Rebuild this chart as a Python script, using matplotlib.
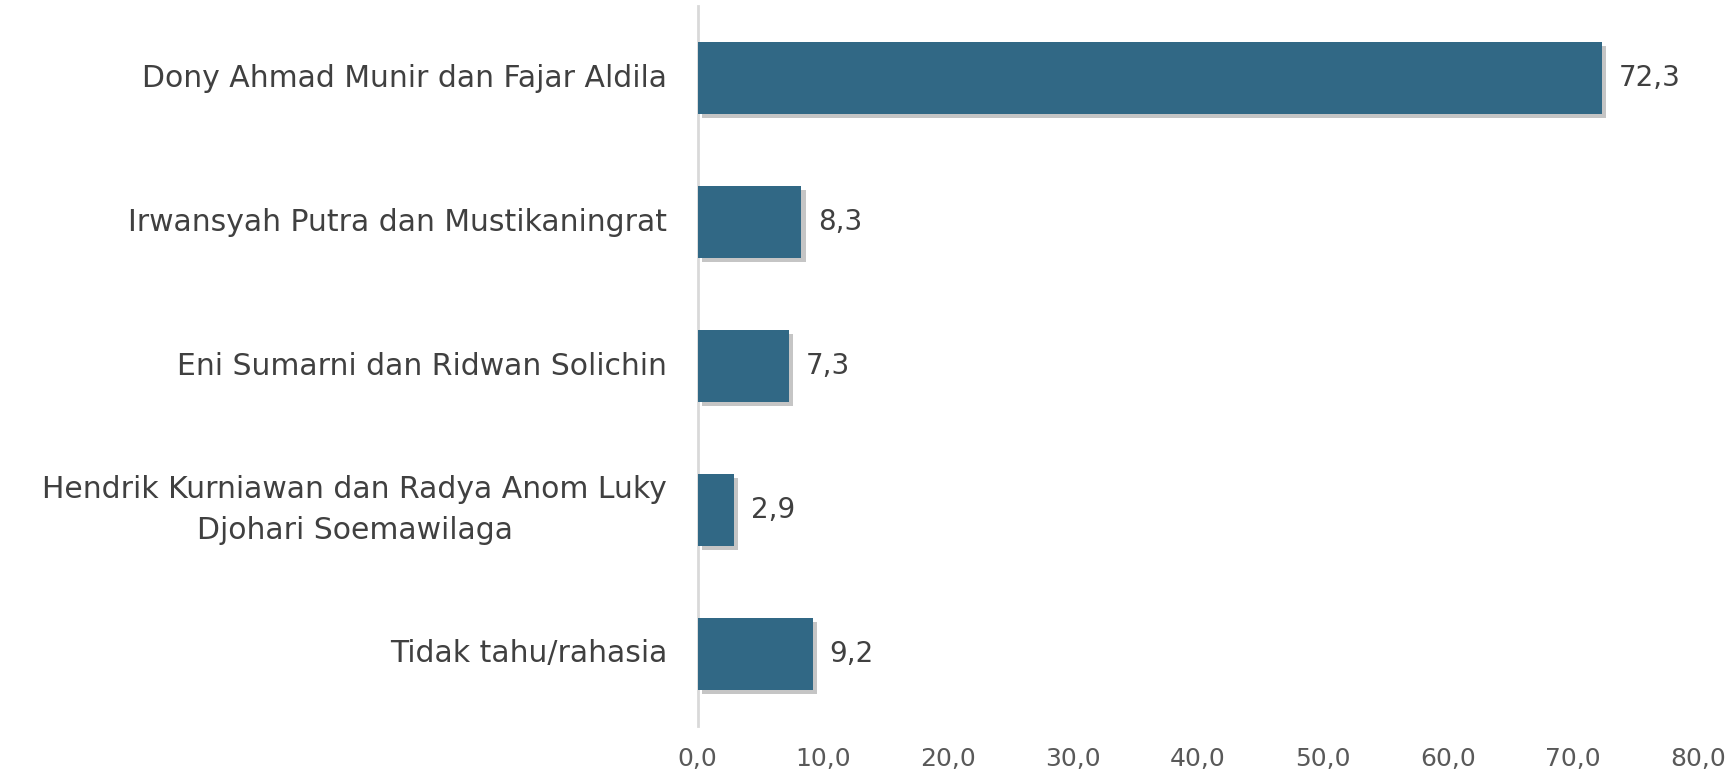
import matplotlib
matplotlib.use("Agg")
import matplotlib.pyplot as plt
import matplotlib.patheffects as pe

# data
categories = ['Dony Ahmad Munir dan Fajar Aldila',
              'Irwansyah Putra dan Mustikaningrat',
              'Eni Sumarni dan Ridwan Solichin',
              'Hendrik Kurniawan dan Radya Anom Luky\nDjohari Soemawilaga',
              'Tidak tahu/rahasia']
values = [72.3, 8.3, 7.3, 2.9, 9.2]
x_ticks = [0, 10, 20, 30, 40, 50, 60, 70, 80]

bar_color = '#316885'
text_color = '#404040'
tick_color = '#595959'

plt.rcParams['font.family'] = ['DejaVu Sans']

fig = plt.figure(figsize=(17.31, 7.73), dpi=100)
ax = fig.add_axes([0.403, 0.061, 0.578, 0.931])

ypos = list(range(len(categories)))
bars = ax.barh(ypos, values, height=0.5, color=bar_color, zorder=3)
for b in bars:
    b.set_path_effects([pe.SimplePatchShadow(offset=(3, -3), shadow_rgbFace='#8c8c8c', alpha=0.5),
                        pe.Normal()])

for y, v in zip(ypos, values):
    ax.annotate(('%.1f' % v).replace('.', ','), xy=(v, y), xytext=(12, 0),
                textcoords='offset points', va='center', ha='left',
                fontsize=20, color=text_color)

ax.set_ylim(len(categories) - 0.5, -0.5)
ax.set_xlim(0, 80)
ax.set_yticks(ypos)
ax.set_yticklabels(categories, fontsize=21.5, color=text_color, multialignment='center',
                   linespacing=1.5, va='center')
ax.set_xticks(x_ticks)
ax.set_xticklabels([('%.1f' % t).replace('.', ',') for t in x_ticks], fontsize=18, color=tick_color)
ax.tick_params(axis='y', length=0, pad=22)
ax.tick_params(axis='x', length=0, pad=15)

for s in ['top', 'right', 'bottom']:
    ax.spines[s].set_visible(False)
ax.spines['left'].set_color('#d9d9d9')
ax.spines['left'].set_linewidth(2)

fig.savefig('out.png', dpi=100)
